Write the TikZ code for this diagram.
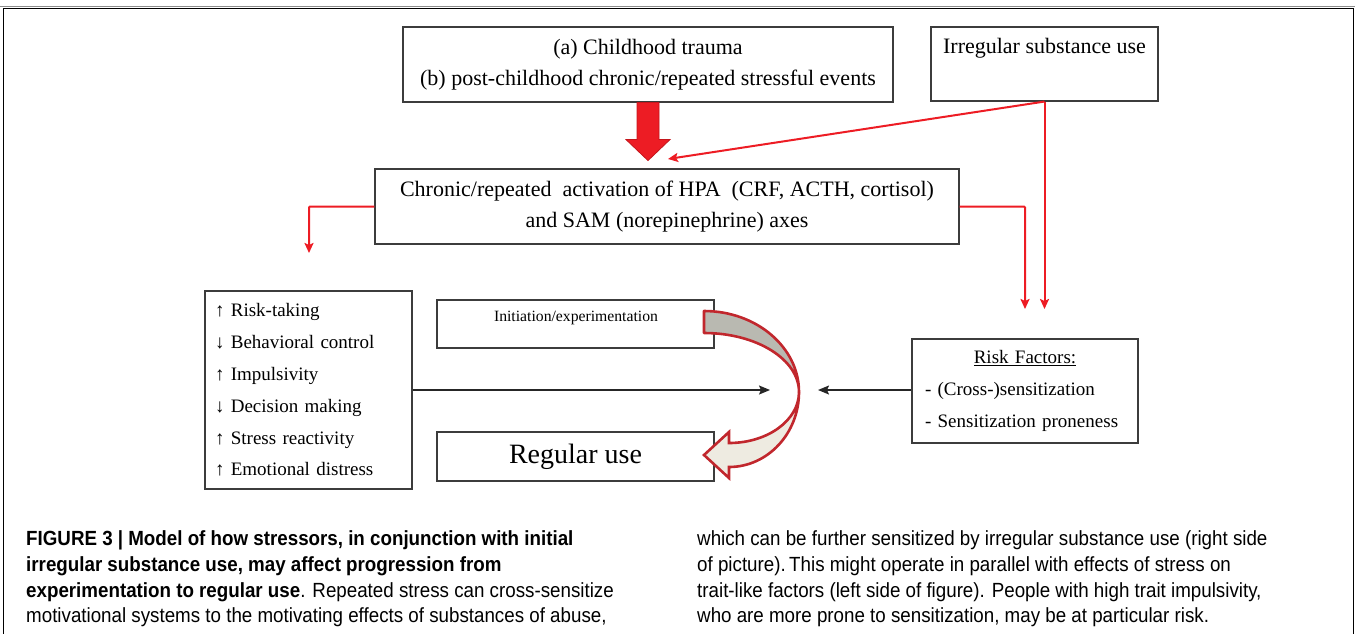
\documentclass[tikz,border=0pt]{standalone}
\usepackage{fontspec}
\setmainfont{Liberation Serif}
\newfontfamily\capfont[FakeStretch=0.915]{Liberation Sans}
\usetikzlibrary{arrows.meta,calc}
\definecolor{redline}{HTML}{ED1C24}
\definecolor{darkred}{HTML}{C1272D}
\definecolor{arrowedge}{HTML}{C4161C}
\definecolor{boxgray}{HTML}{3C3C3C}
\definecolor{backgray}{HTML}{B9B9B1}
\definecolor{frontbeige}{HTML}{EEEBE1}
\begin{document}
\begin{tikzpicture}[x=1pt,y=-1pt,
  box/.style={draw=boxgray, line width=1.1pt, inner sep=0pt},
  redarrow/.style={draw=redline, line width=2pt, -{Stealth[length=10pt,width=9pt,inset=2pt]}},
  redelbow/.style={draw=redline, line width=2pt, rounded corners=1pt, -{Stealth[length=10pt,width=9pt,inset=2pt]}},
  blackarrow/.style={draw=black!85, line width=1.5pt, -{Stealth[length=11pt,width=9pt,inset=2pt]}},
  maintext/.style={font=\fontsize{22}{31}\selectfont},
  listtext/.style={font=\fontsize{19}{31.8}\selectfont},
  captext/.style={font=\capfont\fontsize{20.5}{25.7}\selectfont, inner sep=0pt, anchor=base west},
]
\useasboundingbox (0,0) rectangle (1355,633);
% frame
\draw[black!45, line width=0.8pt] (0,6.5) -- (1355,6.5);
\draw[black, line width=1pt] (3,640) -- (3,8) -- (1353,8) -- (1353,640);

% boxes
\node[box, maintext, minimum width=490pt, minimum height=75pt, align=center] (A) at (648,64.5)
  {(a) Childhood trauma\\(b) post-childhood chronic/repeated stressful events};
\node[box, minimum width=227pt, minimum height=74pt] (B) at (1044.5,64) {};
\node[maintext, inner sep=0pt] (Btext) at (1044.5,48) {Irregular substance use};
\node[box, maintext, minimum width=584pt, minimum height=75pt, align=center] (C) at (667,206.5)
  {Chronic/repeated\ \ activation of HPA\ \ (CRF, ACTH, cortisol)\\and SAM (norepinephrine) axes};
\node[box, listtext, text width=187pt, inner xsep=10pt, minimum height=198pt, align=left] (D) at (308.5,390)
  {↑ Risk-taking\\↓ Behavioral control\\↑ Impulsivity\\↓ Decision making\\↑ Stress reactivity\\↑ Emotional distress};
\node[box, minimum width=277pt, minimum height=48pt] (Init) at (575.5,324) {};
\node[font=\fontsize{15.7}{18}\selectfont, inner sep=0pt] (Inittext) at (576,318) {Initiation/experimentation};
\node[box, minimum width=277pt, minimum height=49pt, font=\fontsize{28}{32}\selectfont] (Reg) at (575.5,456.5) {Regular use};
\node[box, listtext, text width=200pt, inner xsep=13pt, minimum height=104pt, align=left] (Risk) at (1025,391)
  {\makebox[200pt]{\underline{Risk Factors:}}\\- (Cross-)sensitization\\- Sensitization proneness};

% big red arrow from A to C
\fill[redline, draw=arrowedge, line width=0.8pt]
  ($(A.south)+(-11,0)$) -- ($(A.south)+(-11,37)$) -- ($(A.south)+(-22,37)$) -- ($(A.south)+(0,58)$)
  -- ($(A.south)+(22,37)$) -- ($(A.south)+(11,37)$) -- ($(A.south)+(11,0)$) -- cycle;

% red connectors
\coordinate (tipA) at (668,159);
\coordinate (tipR1) at (1044.5,309);
\coordinate (tipR2) at (1025,309);
\coordinate (tipL) at (309,253);
\draw[redarrow] (B.south) -- (tipA);
\draw[redarrow] (B.south) -- (tipR1);
\draw[redelbow] (C.east) -| (tipR2);
\draw[redelbow] (C.west) -| (tipL);

% black arrows
\coordinate (midL) at (770,390);
\coordinate (midR) at (818,390);
\draw[blackarrow] (D.east) -- (midL);
\draw[blackarrow] (Risk.west |- midR) -- (midR);

% curved ribbon arrow
\filldraw[fill=backgray, draw=darkred, line width=2.6pt, line join=round]
  (704,311) .. controls (756.5,311) and (799,347.3) .. (799,392)
  .. controls (799,359.4) and (756.5,333) .. (704,333) -- cycle;
\filldraw[fill=frontbeige, draw=darkred, line width=2.6pt, line join=miter]
  (799,392) .. controls (799,433.4) and (767.7,467) .. (729,467)
  -- (729,478) -- (704,455) -- (729,432) -- (729,443)
  .. controls (767.7,443) and (799,420.2) .. (799,392) -- cycle;

% caption
\node[captext] (c1) at (26,545) {\bfseries FIGURE 3 | Model of how stressors, in conjunction with initial};
\node[captext] (c2) at (26,571) {\bfseries irregular substance use, may affect progression from};
\node[captext] (c3) at (26,597) {\textbf{experimentation to regular use}. Repeated stress can cross-sensitize};
\node[captext] (c4) at (26,622) {motivational systems to the motivating effects of substances of abuse,};
\node[captext] (c5) at (697,545) {which can be further sensitized by irregular substance use (right side};
\node[captext] (c6) at (697,571) {of picture).\,This might operate in parallel with effects of stress on};
\node[captext] (c7) at (697,597) {trait-like factors (left side of figure). People with high trait impulsivity,};
\node[captext] (c8) at (697,622) {who are more prone to sensitization, may be at particular risk.};
\end{tikzpicture}
\end{document}
